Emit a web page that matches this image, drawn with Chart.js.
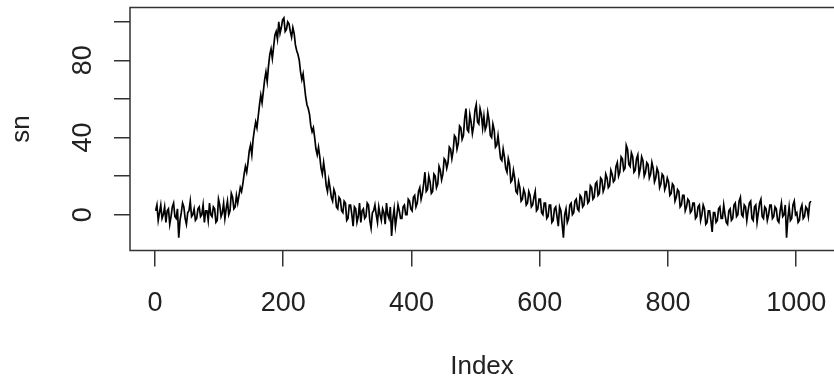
<!DOCTYPE html>
<html>
<head>
<meta charset="utf-8">
<script src="https://cdn.jsdelivr.net/npm/chart.js@4.4.1/dist/chart.umd.min.js"></script>
<style>
  html, body { margin: 0; padding: 0; background: #fff; overflow: hidden; }
  #wrap { width: 834px; height: 388px; }
</style>
</head>
<body>
<div id="wrap"><canvas id="chart" width="834" height="388"></canvas></div>
<script>
// sn, every 2nd index (1, 3, 5, ... 1023)
const snValues = [
  2, 5, -3, 1, 5, -2, 0, 4, -4, 2, 3, -5, -1, 4, 6, -1, -2, 3, -12, -3, 1, 6, 4, -2, -5, 1, 2, 7, -1, 0, 3, -3,
  -2, 3, 4, -1, 0, 5, -4, 2, 2, -3, 6, 0, -1, 4, 3, -4, -3, 8, 5, -1, 1, 6, -2, 3, 7, 0, 2, 11, 9, 3, 4, 10,
  6, 10, 14, 12, 16, 21, 25, 22, 27, 33, 36, 31, 39, 44, 48, 45, 51, 57, 62, 58, 64, 70, 74, 69, 77, 83, 86, 81, 87, 93, 95, 91,
  100, 94, 97, 101, 102, 95, 96, 100, 99, 95, 92, 97, 94, 88, 85, 83, 80, 74, 70, 73, 67, 61, 57, 55, 52, 46, 43, 45, 40, 34, 31, 35,
  30, 24, 21, 27, 22, 15, 12, 18, 14, 9, 7, 13, 11, 4, 3, 9, 8, 2, 1, 7, 6, -3, -2, 5, 5, 0, -6, 4, 3, -4, -1, 6,
  -4, 2, 3, -2, -1, 6, 5, -3, -7, 1, 2, 5, 0, -4, 4, 0, -3, 3, 1, -5, 6, 0, -2, 4, -11, -2, 3, -6, -1, 5, 2, -2,
  -2, 4, 5, 0, 0, 8, 7, 3, 2, 9, 10, 4, 6, 12, 14, 8, 11, 16, 22, 12, 13, 20, 17, 11, 12, 21, 20, 14, 16, 25, 23, 18,
  21, 29, 28, 24, 27, 35, 34, 29, 33, 41, 40, 34, 37, 46, 45, 39, 41, 50, 55, 44, 43, 52, 48, 42, 46, 54, 57, 48, 47, 55, 52, 45,
  51, 44, 46, 53, 49, 41, 40, 47, 44, 35, 36, 41, 35, 29, 28, 34, 30, 24, 22, 29, 26, 17, 18, 23, 19, 12, 11, 17, 14, 7, 8, 13,
  11, 5, 6, 12, 10, 4, 5, 9, 12, 2, 3, 8, 8, 1, 0, 6, 6, -2, -1, 5, 5, -4, -3, 3, 4, -1, -6, 4, 2, -5, -12, 0,
  3, -4, -2, 5, 6, 0, 1, 7, 8, 3, 2, 10, 9, 4, 5, 12, 12, 6, 7, 15, 14, 8, 9, 16, 17, 10, 11, 19, 18, 12, 14, 21,
  19, 14, 15, 23, 21, 17, 18, 25, 27, 20, 22, 30, 29, 23, 24, 36, 34, 26, 25, 32, 30, 22, 23, 29, 31, 21, 24, 30, 28, 20, 22, 27,
  26, 19, 21, 27, 24, 17, 19, 24, 22, 14, 16, 21, 20, 13, 15, 19, 17, 10, 11, 16, 15, 7, 9, 13, 12, 4, 5, 10, 10, 2, 4, 8,
  7, 1, 2, 6, 6, -2, -1, 4, 5, -3, 0, 5, 3, -5, -4, 2, 2, -3, -9, 1, 1, -4, -3, 3, 4, -2, -2, 5, 0, -4, -5, 2,
  3, -3, -2, 5, 6, -1, 0, 7, 9, 0, -1, 5, 4, -3, 2, 6, 7, -2, -3, 4, 5, -4, 1, 6, 8, -1, -2, 4, 3, -3, 0, 5,
  5, -2, -1, 4, 3, -3, -4, 2, 6, -1, 0, 5, -12, -2, 4, -3, -2, 5, 7, 0, 1, -4, -3, 3, 5, -2, -1, 4, 3, -1, 6, 7
];
const indexStep = 2;
const xTicks = [0, 200, 400, 600, 800, 1000];
const yTicks = [0, 20, 40, 60, 80, 100];
const yLabelled = [0, 40, 80];

const points = snValues.map((v, i) => ({ x: 1 + i * indexStep, y: v }));

const font = { family: '"Liberation Sans", Arial, sans-serif', size: 27 };
const textColor = '#222';

// R-style box (right side runs off the picture)
const boxPlugin = {
  id: 'box',
  afterDraw(chart) {
    const { ctx, chartArea: a } = chart;
    ctx.save();
    ctx.strokeStyle = '#333';
    ctx.lineWidth = 1.5;
    ctx.strokeRect(a.left, a.top, a.right - a.left + 20, a.bottom - a.top);
    ctx.restore();
  }
};

new Chart(document.getElementById('chart'), {
  type: 'line',
  data: {
    datasets: [{
      data: points,
      borderColor: '#000',
      borderWidth: 1.7,
      pointRadius: 0,
      tension: 0,
      fill: false
    }]
  },
  options: {
    responsive: false,
    animation: false,
    layout: { padding: { top: 7.5, right: 0, left: 0, bottom: 0 } },
    plugins: { legend: { display: false }, tooltip: { enabled: false } },
    scales: {
      x: {
        type: 'linear',
        min: -39,
        max: 1059,
        afterFit: s => { s.height = 137.5; s.paddingLeft = 0; s.paddingRight = 0; },
        afterBuildTicks: s => { s.ticks = xTicks.map(v => ({ value: v })); },
        border: { display: false },
        grid: { drawOnChartArea: false, drawTicks: true, tickLength: 16, color: '#333', lineWidth: 1.5 },
        ticks: { font, color: textColor, padding: 21, maxRotation: 0, callback: v => String(v) },
        title: { display: true, text: 'Index', font: { ...font, size: 26 }, color: textColor, padding: { top: 0, bottom: 6 } }
      },
      y: {
        min: -18.6,
        max: 107.4,
        afterFit: s => { s.width = 130; s.paddingTop = 0; s.paddingBottom = 0; },
        afterBuildTicks: s => { s.ticks = yTicks.map(v => ({ value: v })); },
        border: { display: false },
        grid: { drawOnChartArea: false, drawTicks: true, tickLength: 16, color: '#333', lineWidth: 1.5 },
        ticks: {
          font, color: textColor, padding: 15, minRotation: 90, maxRotation: 90, crossAlign: 'center',
          callback: v => yLabelled.includes(v) ? String(v) : ''
        },
        title: { display: true, text: 'sn', font: { ...font, size: 26 }, color: textColor, padding: { top: 6, bottom: 0 } }
      }
    }
  },
  plugins: [boxPlugin]
});
</script>
</body>
</html>
